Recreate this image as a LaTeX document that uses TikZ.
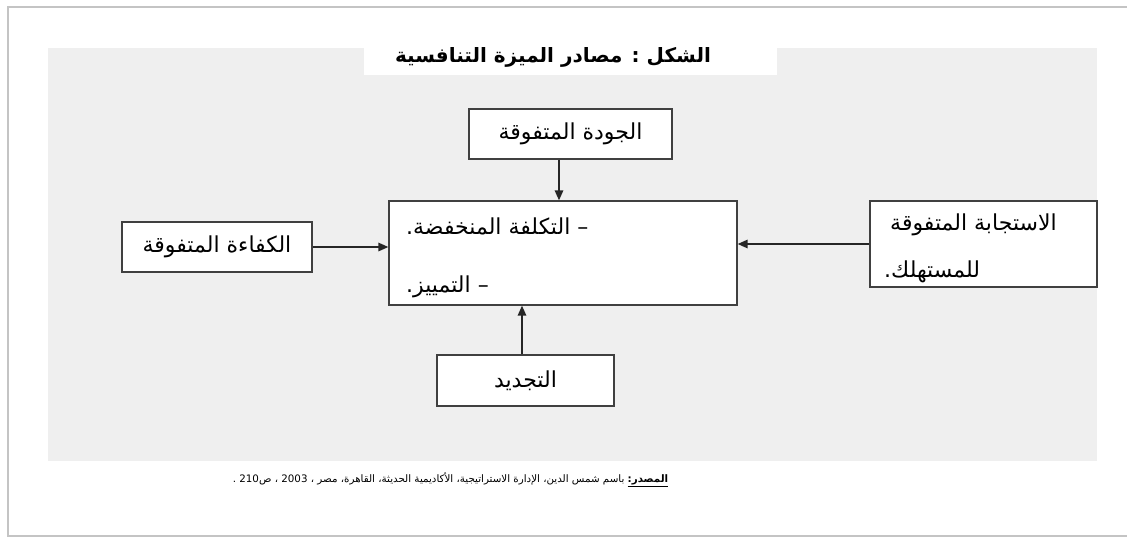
\documentclass[tikz,border=0pt]{standalone}
\usepackage{fontspec}
\setmainfont{DejaVu Sans}
\newfontfamily\arabicfont[Script=Arabic]{DejaVu Sans}
\TeXXeTstate=1
\usetikzlibrary{arrows.meta,calc}
\definecolor{bgray}{HTML}{EFEFEF}
\definecolor{boxline}{HTML}{404040}
\definecolor{framegray}{HTML}{C4C4C4}
\begin{document}
\begin{tikzpicture}[x=1pt,y=-1pt,
  box/.style={draw=boxline, line width=1.3pt, fill=white, inner sep=0pt},
  arr/.style={-{Triangle[length=10pt,width=8.5pt]}, line width=1.5pt, draw=black!85},
  atext/.style={font=\arabicfont\fontsize{22}{25}\selectfont},
  ttext/.style={font=\arabicfont\bfseries\fontsize{20}{24}\selectfont},
  stext/.style={font=\arabicfont\fontsize{10.3}{12}\selectfont}]
\useasboundingbox (0,0) rectangle (1127,539);
\fill[white] (0,0) rectangle (1127,539);
\draw[framegray, line width=2pt] (1127,7) -- (8,7) -- (8,536) -- (1127,536);
\fill[bgray] (48,48) rectangle (1097,461);
\fill[white] (364,46) rectangle (777,75);
\begin{scope}
  \clip (300,47) rectangle (800,80);
  \node[ttext, inner sep=0pt, anchor=base] (title) at (553,62) {\beginR الشكل : مصادر الميزة التنافسية\endR};
\end{scope}
% boxes
\node[box, minimum width=203pt, minimum height=50pt, atext] (top) at (570.5,134) {\beginR الجودة المتفوقة\endR};
\node[box, minimum width=348pt, minimum height=104pt] (center) at (563,253) {};
\node[box, minimum width=190pt, minimum height=50pt, atext] (left) at (217,247) {\beginR الكفاءة المتفوقة\endR};
\node[box, minimum width=227pt, minimum height=86pt] (right) at (983.5,244) {};
\node[box, minimum width=177pt, minimum height=51pt, atext] (bottom) at (525.5,380.5) {\beginR التجديد\endR};
% texts inside boxes
\node[atext, anchor=west, inner sep=0pt] (c1) at (406,226) {\beginR – التكلفة المنخفضة.\endR};
\node[atext, anchor=west, inner sep=0pt] (c2) at (406,287) {\beginR – التمييز.\endR};
\node[atext, anchor=west, inner sep=0pt] (r1) at (890,225) {\beginR الاستجابة المتفوقة\endR};
\node[atext, anchor=west, inner sep=0pt] (r2) at (884,272) {\beginR للمستهلك.\endR};
% arrows
\coordinate (tx) at (559,0);
\coordinate (bx) at (522,0);
\draw[arr] (top.south -| tx) -- (center.north -| tx);
\draw[arr] (left.east) -- (center.west |- left.east);
\draw[arr] (right.west) -- (center.east |- right.west);
\draw[arr] (bottom.north -| bx) -- (center.south -| bx);
% source
\node[stext, inner sep=0pt] (src) at (450.5,480) {\beginR\underline{\textbf{المصدر:}} باسم شمس الدين، الإدارة الاستراتيجية، الأكاديمية الحديثة، القاهرة، مصر ، \beginL2003\endL{} ، ص\beginL210\endL{} .\endR};
\end{tikzpicture}
\end{document}
